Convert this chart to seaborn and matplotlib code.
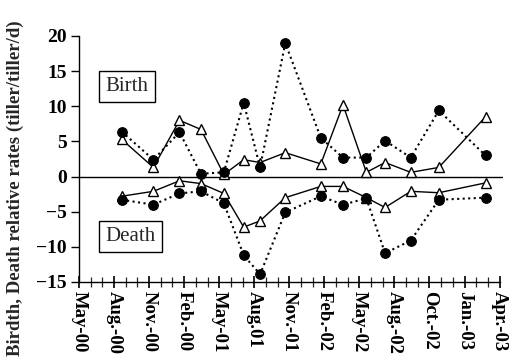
import numpy as np
import pandas as pd
import seaborn as sns
import matplotlib.pyplot as plt

# sampling dates as months since May-00
months = [3.65, 6.37, 8.6, 10.44, 12.4, 14.1, 15.5, 17.66, 20.7, 22.6, 24.6, 26.2, 28.4, 30.8, 34.8]

birth_tri = [5.3, 1.3, 8.0, 6.7, 0.3, 2.4, 2.0, 3.4, 1.8, 10.2, 0.6, 2.0, 0.6, 1.3, 8.5]
birth_dot = [6.4, 2.4, 6.3, 0.4, 0.6, 10.5, 1.3, 19.0, 5.5, 2.7, 2.7, 5.1, 2.7, 9.4, 3.0]
death_tri = [-2.8, -2.1, -0.6, -1.0, -2.4, -7.2, -6.3, -3.0, -1.4, -1.4, -3.0, -4.4, -2.1, -2.3, -0.9]
death_dot = [-3.3, -4.0, -2.4, -2.1, -3.8, -11.2, -13.9, -5.1, -2.8, -4.0, -3.1, -10.9, -9.1, -3.3, -3.0]

tick_pos = list(range(0, 37, 3))
tick_labels = ["May-00", "Aug.-00", "Nov.-00", "Feb.-00", "May-01", "Aug.01", "Nov.-01",
               "Feb.-02", "May-02", "Aug.-02", "Oct.-02", "Jan.-03", "Apr.-03"]

sns.set_theme(style="ticks")
plt.rcParams['font.family'] = ['Liberation Serif', 'DejaVu Serif']

fig = plt.figure(figsize=(5.14, 3.62), dpi=100)
ax = fig.add_axes([0.1537, 0.221, 0.825, 0.6796])

tri_kw = dict(marker="^", markersize=7, markerfacecolor="white", markeredgecolor="black",
              markeredgewidth=1.0, color="black", linewidth=1.0)
dot_kw = dict(marker="o", markersize=7, markerfacecolor="black", markeredgecolor="black",
              color="black", linewidth=1.5, linestyle=":")

for vals in [birth_tri, death_tri]:
    sns.lineplot(x=months, y=vals, ax=ax, **tri_kw)
for vals in [birth_dot, death_dot]:
    sns.lineplot(x=months, y=vals, ax=ax, **dot_kw)

ax.axhline(0, color="black", linewidth=1.0, xmin=0, xmax=1.0, zorder=1)

ax.set_xlim(0, 36.3)
ax.set_ylim(-15, 20)
ax.spines["bottom"].set_bounds(0, 36)
ax.spines["top"].set_visible(False)
ax.spines["right"].set_visible(False)
for s in ["left", "bottom"]:
    ax.spines[s].set_linewidth(1.0)
    ax.spines[s].set_color("black")

ax.set_yticks([-15, -10, -5, 0, 5, 10, 15, 20])
ax.set_xticks(tick_pos)
ax.set_xticks(range(0, 37), minor=True)
ax.set_xticklabels(tick_labels, rotation=-90, fontweight="bold", fontsize=13.5)
ax.tick_params(axis="y", direction="out", length=6, width=1, labelsize=14, pad=3, colors="black")
ax.tick_params(axis="x", which="major", direction="inout", length=9, width=1.2, pad=2, colors="black")
ax.tick_params(axis="x", which="minor", direction="inout", length=7, width=0.9)
for lab in ax.get_yticklabels():
    lab.set_fontweight("bold")

ax.set_ylabel("Birdth, Death relative rates (tiller/tiller/d)", fontweight="bold", fontsize=13.5)
ax.yaxis.set_label_coords(-0.13, 0.38)

box = dict(boxstyle="square,pad=0.3", facecolor="white", edgecolor="black", linewidth=1.0)
ax.text(4.1, 12.8, "Birth", ha="center", va="center", fontsize=15, bbox=box)
ax.text(4.4, -8.5, "Death", ha="center", va="center", fontsize=15, bbox=box)

fig.savefig("out.png", dpi=100)
